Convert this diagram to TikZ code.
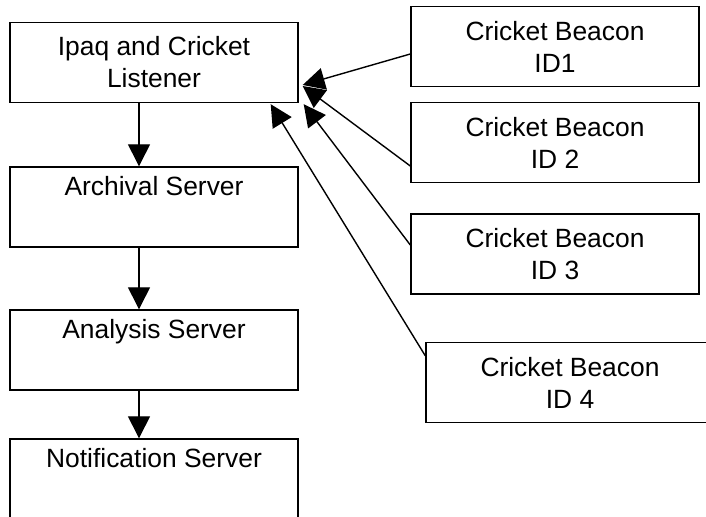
\documentclass[tikz,border=0pt]{standalone}
\usepackage{fontspec}
\setmainfont{Liberation Sans}
\usepackage{tikz}
\usetikzlibrary{arrows.meta,calc,positioning}
\tikzset{
  every picture/.style={draw=black, text=black},
}

\begin{document}
\begin{tikzpicture}[x=0.5pt, y=-0.5pt, line width=0.7pt,
  >={Triangle[length=11pt,width=11pt]},
  box/.style={draw, line width=0.7pt, minimum width=144pt, minimum height=40pt,
    inner sep=0pt, align=center, font=\fontsize{13.2}{16}\selectfont}]

\clip (0,0) rectangle (706,517);

%% Left column: listener and servers
\node[box] (ipaq)     at (154, 62.5) {Ipaq and Cricket\\Listener};
\node[box] (archive)  at (154, 207)  {Archival Server\\\strut};
\node[box] (analysis) at (154, 350)  {Analysis Server\\\strut};
\node[box] (notify)   at (154, 479)  {Notification Server\\\strut};

% Data flow down the chain
\draw[->] ($(ipaq.south)+(-15,0)$)     -- ($(archive.north)+(-15,0)$);
\draw[->] ($(archive.south)+(-15,0)$)  -- ($(analysis.north)+(-15,0)$);
\draw[->] ($(analysis.south)+(-15,0)$) -- ($(notify.north)+(-15,0)$);

%% Right column: beacons
\node[box] (beacon1) at (555, 46.5)  {Cricket Beacon\\ID1};
\node[box] (beacon2) at (555, 142.5) {Cricket Beacon\\ID 2};
\node[box] (beacon3) at (555, 254)   {Cricket Beacon\\ID 3};
\node[box] (beacon4) at (570, 382.5) {Cricket Beacon\\ID 4};

% Beacon signals to the listener
\draw[->] ($(beacon1.west)+(0,7.5)$)        -- ($(ipaq.east)+(4,22.5)$);
\draw[->] ($(beacon2.west)+(0,23.5)$)       -- ($(ipaq.east)+(4,23.5)$);
\draw[->] ($(beacon3.west)+(0,-9)$)         -- ($(ipaq.south east)+(5,1)$);
\draw[->] ($(beacon4.north west)+(0,14)$)   -- ($(ipaq.south east)+(-28,1)$);

\end{tikzpicture}
\end{document}
